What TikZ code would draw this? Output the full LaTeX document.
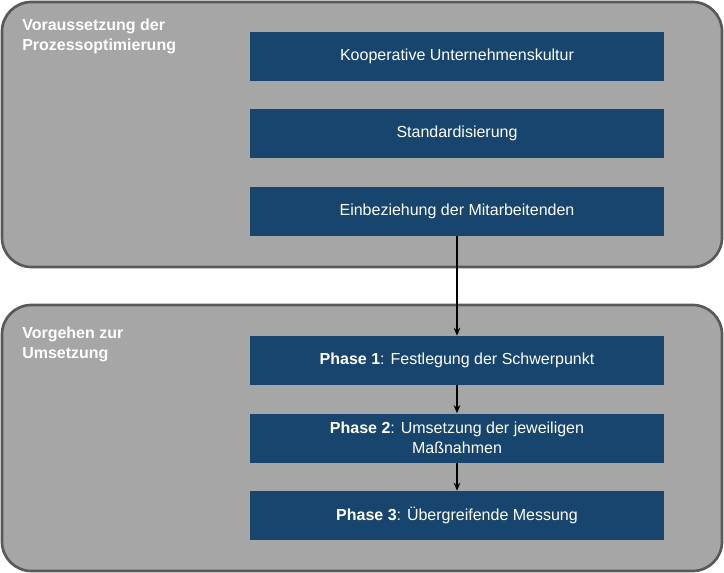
\documentclass[tikz,border=0pt]{standalone}
\usepackage{fontspec}
\setmainfont{Liberation Sans}
\usetikzlibrary{arrows.meta}
\definecolor{boxblue}{HTML}{17456E}
\definecolor{panel}{HTML}{A6A6A6}
\definecolor{edge}{HTML}{595959}
\begin{document}
\begin{tikzpicture}[x=0.75pt,y=-0.75pt,
  panelbox/.style={draw=edge,line width=2pt,fill=panel,rounded corners=22pt},
  bluebox/.style={fill=boxblue,text=white,minimum width=414*0.75pt,minimum height=49*0.75pt,inner sep=0pt,align=center,font=\fontsize{12}{15}\selectfont},
  ptitle/.style={text=white,font=\bfseries\fontsize{12}{15}\selectfont,align=left,anchor=north west,inner sep=0pt},
  conn/.style={-{Stealth[length=6pt,width=5pt]},line width=1pt,black}]
\useasboundingbox (0,0) rectangle (724,573);
\draw[panelbox] (2,2) rectangle (722,267);
\draw[panelbox] (2,305) rectangle (722,571);
\node[ptitle] (t1) at (22,19) {Voraussetzung der\\Prozessoptimierung};
\node[ptitle] (t2) at (22,327) {Vorgehen zur\\Umsetzung};
\node[bluebox] (a) at (457,56.5) {Kooperative Unternehmenskultur};
\node[bluebox] (b) at (457,133.5) {Standardisierung};
\node[bluebox] (c) at (457,211.5) {Einbeziehung der Mitarbeitenden};
\node[bluebox] (p1) at (457,360.5) {\textbf{Phase 1}: Festlegung der Schwerpunkt};
\node[bluebox] (p2) at (457,438) {\textbf{Phase 2}: Umsetzung der jeweiligen\\Maßnahmen};
\node[bluebox] (p3) at (457,515.5) {\textbf{Phase 3}: Übergreifende Messung};
\draw[conn] (c) -- (p1);
\draw[conn] (p1) -- (p2);
\draw[conn] (p2) -- (p3);
\end{tikzpicture}
\end{document}
